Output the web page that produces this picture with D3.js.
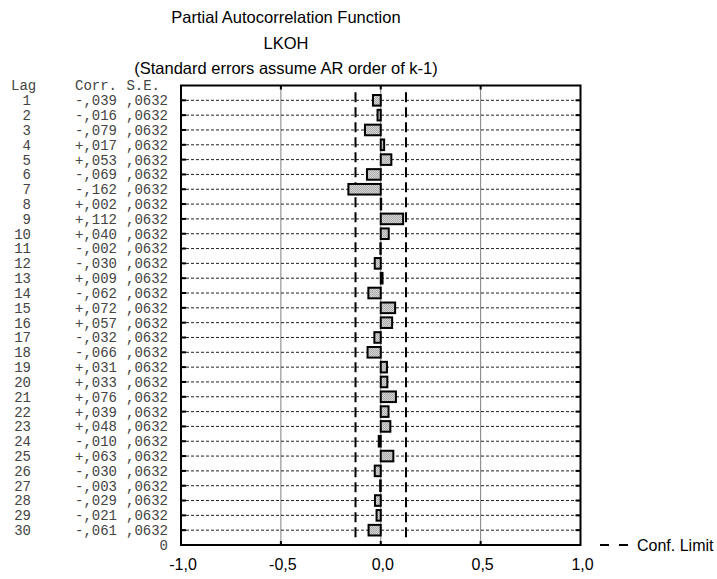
<!DOCTYPE html>
<html>
<head>
<meta charset="utf-8">
<script src="https://cdn.jsdelivr.net/npm/d3@7"></script>
<style>
  body { margin: 0; background: #fff; }
  svg { display: block; }
</style>
</head>
<body>
<script>
// PACF values
var lags = d3.range(1, 31);
var corr = [-0.039, -0.016, -0.079, 0.017, 0.053, -0.069, -0.162, 0.002, 0.112, 0.040,
            -0.002, -0.030, 0.009, -0.062, 0.072, 0.057, -0.032, -0.066, 0.031, 0.033,
            0.076, 0.039, 0.048, -0.010, 0.063, -0.030, -0.003, -0.029, -0.021, -0.061];
var se = lags.map(function () { return 0.0632; });
var xTicks = [-1, -0.5, 0, 0.5, 1];
var titles = ["Partial Autocorrelation Function", "LKOH", "(Standard errors assume AR order of k-1)"];

var width = 717, height = 579;
// plot box (note: "top" is taken by window.top)
var pLeft = 181, pRight = 580.5, pTop = 85.5, pBottom = 545;

var svg = d3.select("body").append("svg")
    .attr("width", width)
    .attr("height", height);

var defs = svg.append("defs");
var pat = defs.append("pattern")
    .attr("id", "stip")
    .attr("width", 2).attr("height", 2)
    .attr("patternUnits", "userSpaceOnUse");
pat.append("rect").attr("width", 2).attr("height", 2).attr("fill", "#d4d4d4");
pat.append("rect").attr("width", 1).attr("height", 1).attr("fill", "#ababab");
pat.append("rect").attr("x", 1).attr("y", 1).attr("width", 1).attr("height", 1).attr("fill", "#ababab");

var x = d3.scaleLinear().domain([-1, 1]).range([pLeft, pRight]);
var y = d3.scaleLinear().domain([0, 31]).range([pTop, pBottom]);

var sans = "Liberation Sans, Arial, sans-serif";

// titles
svg.selectAll("text.title")
    .data(titles)
  .enter().append("text")
    .attr("class", "title")
    .attr("x", 286)
    .attr("y", function (d, i) { return 23 + i * 25.5; })
    .attr("text-anchor", "middle")
    .style("font-family", sans)
    .style("font-size", "16.5px")
    .text(function (d) { return d; });

// table on the left
var mono = "Liberation Mono, Courier New, monospace";
var fmtCorr = function (v) {
    return (v < 0 ? "-" : "+") + "," + d3.format("03d")(Math.round(Math.abs(v) * 1000));
};
var fmtSe = function (v) { return d3.format(".4f")(v).replace(/^0\./, ","); };

var table = svg.append("g")
    .style("font-family", mono)
    .style("font-size", "14px")
    .style("fill", "#444");

table.append("text").attr("x", 11).attr("y", y(0)).attr("dy", "0.35em").text("Lag");
table.append("text").attr("x", 117).attr("y", y(0)).attr("dy", "0.35em").attr("text-anchor", "end").text("Corr.");
table.append("text").attr("x", 160).attr("y", y(0)).attr("dy", "0.35em").attr("text-anchor", "end").text("S.E.");

var rows = table.selectAll("g.row")
    .data(lags)
  .enter().append("g")
    .attr("class", "row")
    .attr("transform", function (d) { return "translate(0," + y(d) + ")"; });

rows.append("text").attr("x", 31).attr("dy", "0.35em").attr("text-anchor", "end")
    .text(function (d) { return d; });
rows.append("text").attr("x", 117).attr("dy", "0.35em").attr("text-anchor", "end")
    .text(function (d, i) { return fmtCorr(corr[i]); });
rows.append("text").attr("x", 168).attr("dy", "0.35em").attr("text-anchor", "end")
    .text(function (d, i) { return fmtSe(se[i]); });

table.append("text").attr("x", 168).attr("y", y(31)).attr("dy", "0.35em")
    .attr("text-anchor", "end").text("0");

// horizontal dashed grid at every lag
svg.append("g").selectAll("line")
    .data(lags)
  .enter().append("line")
    .attr("x1", pLeft).attr("x2", pRight)
    .attr("y1", function (d) { return y(d); })
    .attr("y2", function (d) { return y(d); })
    .attr("stroke", "#222")
    .attr("stroke-width", 1)
    .attr("stroke-dasharray", "3,2");

// vertical dotted grid
svg.append("g").selectAll("line")
    .data([-0.5, 0, 0.5])
  .enter().append("line")
    .attr("x1", function (d) { return x(d); })
    .attr("x2", function (d) { return x(d); })
    .attr("y1", pTop).attr("y2", pBottom)
    .attr("stroke", "#000")
    .attr("stroke-width", 1)
    .attr("stroke-dasharray", "1,1");

// confidence limits (2 * S.E.)
var lim = 2 * se[0];
svg.append("g").selectAll("line")
    .data([-lim, lim])
  .enter().append("line")
    .attr("x1", function (d) { return x(d); })
    .attr("x2", function (d) { return x(d); })
    .attr("y1", y(0.45)).attr("y2", y(30.5))
    .attr("stroke", "#000")
    .attr("stroke-width", 2)
    .attr("stroke-dasharray", "10,5");

// bars
svg.append("g").selectAll("rect")
    .data(lags)
  .enter().append("rect")
    .attr("x", function (d, i) { return Math.min(x(0), x(corr[i])); })
    .attr("width", function (d, i) { return Math.abs(x(corr[i]) - x(0)); })
    .attr("y", function (d) { return y(d) - 5.3; })
    .attr("height", 10.6)
    .attr("fill", "url(#stip)")
    .attr("stroke", "#000")
    .attr("stroke-width", 2);

// frame and inner ticks
var frame = svg.append("g");
frame.append("rect")
    .attr("x", pLeft).attr("y", pTop)
    .attr("width", pRight - pLeft).attr("height", pBottom - pTop)
    .attr("fill", "none").attr("stroke", "#000").attr("stroke-width", 2);

frame.selectAll("line.lt")
    .data(lags)
  .enter().append("line")
    .attr("class", "lt")
    .attr("x1", pLeft).attr("x2", pLeft + 5)
    .attr("y1", function (d) { return y(d); })
    .attr("y2", function (d) { return y(d); })
    .attr("stroke", "#000").attr("stroke-width", 2);
frame.selectAll("line.rt")
    .data(lags)
  .enter().append("line")
    .attr("class", "rt")
    .attr("x1", pRight - 5).attr("x2", pRight)
    .attr("y1", function (d) { return y(d); })
    .attr("y2", function (d) { return y(d); })
    .attr("stroke", "#000").attr("stroke-width", 2);
frame.selectAll("line.tt")
    .data([-0.5, 0, 0.5])
  .enter().append("line")
    .attr("class", "tt")
    .attr("x1", function (d) { return x(d); })
    .attr("x2", function (d) { return x(d); })
    .attr("y1", pTop).attr("y2", pTop + 4)
    .attr("stroke", "#000").attr("stroke-width", 2);
frame.selectAll("line.bt")
    .data([-0.5, 0, 0.5])
  .enter().append("line")
    .attr("class", "bt")
    .attr("x1", function (d) { return x(d); })
    .attr("x2", function (d) { return x(d); })
    .attr("y1", pBottom - 4).attr("y2", pBottom)
    .attr("stroke", "#000").attr("stroke-width", 2);

// x axis labels
var xAxis = d3.axisBottom(x)
    .tickValues(xTicks)
    .tickSize(0)
    .tickPadding(14)
    .tickFormat(function (d) { return d3.format(".1f")(d).replace("\u2212", "-").replace(".", ","); });
var gx = svg.append("g")
    .attr("transform", "translate(1.5," + pBottom + ")")
    .call(xAxis);
gx.select(".domain").remove();
gx.selectAll("text")
    .style("font-family", sans)
    .style("font-size", "16px")
    .attr("fill", "#000");

// legend
var leg = svg.append("g").attr("transform", "translate(600," + pBottom + ")");
leg.append("line")
    .attr("x1", 0).attr("x2", 28).attr("y1", 0).attr("y2", 0)
    .attr("stroke", "#000").attr("stroke-width", 2)
    .attr("stroke-dasharray", "9,10");
leg.append("text")
    .attr("x", 37).attr("dy", "0.35em")
    .style("font-family", sans)
    .style("font-size", "16px")
    .text("Conf. Limit");
</script>
</body>
</html>
